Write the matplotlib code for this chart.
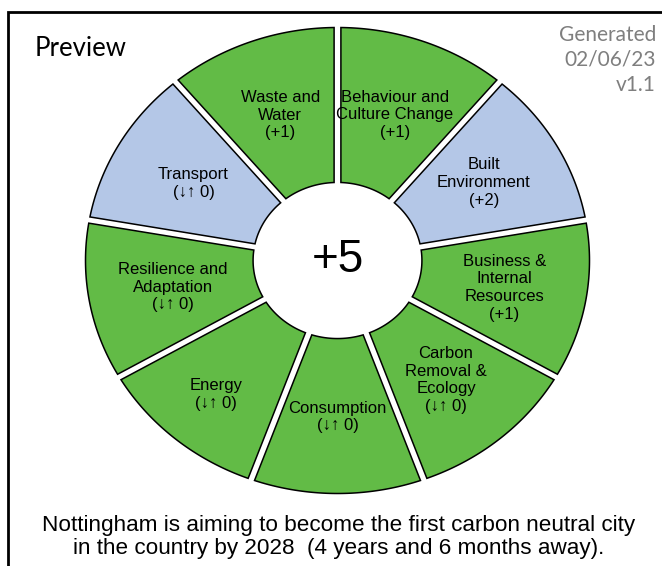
"""
Carbon neutral progress wheel (preview)
"""
import matplotlib
matplotlib.use("Agg")
import matplotlib.pyplot as plt
import numpy as np
from matplotlib.patches import Polygon, Rectangle

plt.rcParams["font.family"] = ["Liberation Sans", "DejaVu Sans"]

# ── data: themes clockwise from the top ──────────────────────────
THEMES = [
    "Behaviour and\nCulture Change",
    "Built\nEnvironment",
    "Business &\nInternal\nResources",
    "Carbon\nRemoval &\nEcology",
    "Consumption",
    "Energy",
    "Resilience and\nAdaptation",
    "Transport",
    "Waste and\nWater",
]
SCORES = [1, 2, 1, 0, 0, 0, 0, 0, 1]
COLOURS = ["green", "blue", "green", "green", "green", "green", "green", "blue", "green"]
# label distance from the centre (fraction of outer radius)
LABEL_R = [0.665, 0.67, 0.672, 0.67, 0.672, 0.75, 0.663, 0.66, 0.663]

FILL = {"green": "#62BB46", "blue": "#B4C7E7"}
R_OUT, R_IN, HALF_GAP = 1.0, 0.335, 0.0135


def score_text(v):
    return f"(+{v})" if v > 0 else "(↓↑ 0)"


def segment(t1, t2):
    """Ring segment between angles t1<t2 (deg) with a constant-width gap."""
    a_out = np.degrees(np.arcsin(HALF_GAP / R_OUT))
    a_in = np.degrees(np.arcsin(HALF_GAP / R_IN))
    outer = np.radians(np.linspace(t1 + a_out, t2 - a_out, 80))
    inner = np.radians(np.linspace(t2 - a_in, t1 + a_in, 40))
    xs = np.concatenate([R_OUT * np.cos(outer), R_IN * np.cos(inner)])
    ys = np.concatenate([R_OUT * np.sin(outer), R_IN * np.sin(inner)])
    return np.column_stack([xs, ys])


fig = plt.figure(figsize=(6.62, 5.66), dpi=100)
ax = fig.add_axes([0, 0, 1, 1])
ax.set_xlim(-337.5 / 252, (662 - 337.5) / 252)
ax.set_ylim((260.5 - 566) / 233, 260.5 / 233)
ax.axis("off")

# equal slices, clockwise from 12 o'clock
weights = np.ones(len(THEMES))
edges = 90 - 360 * np.concatenate([[0], np.cumsum(weights)]) / weights.sum()

for i, name in enumerate(THEMES):
    t_start, t_end = edges[i + 1], edges[i]
    ax.add_patch(Polygon(segment(t_start, t_end), closed=True,
                         facecolor=FILL[COLOURS[i]], edgecolor="black", lw=1.1))
    mid = np.radians((t_start + t_end) / 2)
    ax.text(LABEL_R[i] * np.cos(mid), LABEL_R[i] * np.sin(mid),
            f"{name}\n{score_text(SCORES[i])}",
            ha="center", va="center", multialignment="center",
            fontsize=12, linespacing=1.22)

ax.text(0, 0, f"+{sum(SCORES)}", ha="center", va="center", fontsize=33)

# frame and captions
fig.patches.append(Rectangle((8 / 662, -0.05), 1.1, 1.05 - 12 / 566,
                             transform=fig.transFigure, fill=False,
                             edgecolor="black", lw=2))
fig.text(35 / 662, 1 - 48 / 566, "Preview", fontsize=18.5, family="Lato",
         ha="left", va="center")
fig.text(656 / 662, 1 - 60 / 566, "Generated\n02/06/23\nv1.1", fontsize=15,
         family="Lato", color="#7F7F7F", ha="right", va="center",
         linespacing=1.3)
fig.text(339 / 662, 1 - 537 / 566,
         "Nottingham is aiming to become the first carbon neutral city\n"
         "in the country by 2028  (4 years and 6 months away).",
         fontsize=16.2, ha="center", va="center", linespacing=1.08)

fig.savefig("out.png", dpi=100)
